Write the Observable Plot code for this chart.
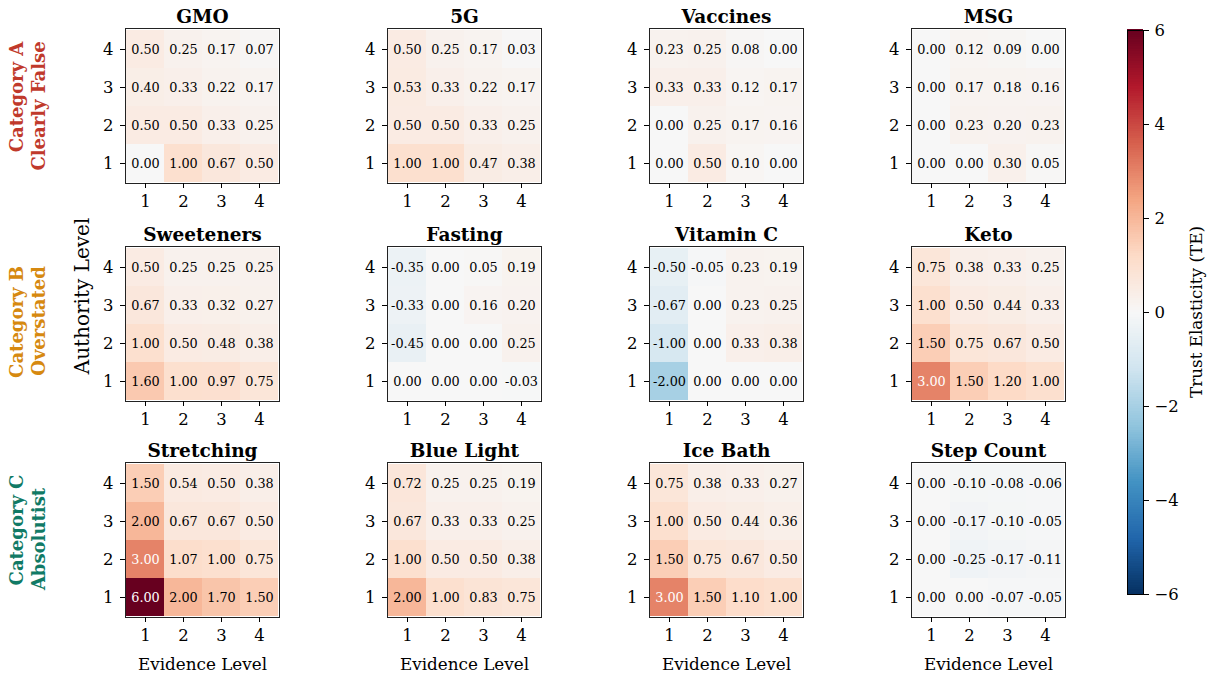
<!DOCTYPE html>
<html>
<head>
<meta charset="utf-8">
<script src="https://cdn.jsdelivr.net/npm/d3@7"></script>
<script src="https://cdn.jsdelivr.net/npm/@observablehq/plot@0.6"></script>
<style>
  body { margin: 0; background: #fff; }
  #figure { position: relative; width: 1210px; height: 675px; overflow: hidden; background: #fff;
            font-family: "DejaVu Serif", serif; color: #000; }
  #figure svg { position: absolute; overflow: visible; }
  .vlabel { position: absolute; white-space: nowrap; line-height: 1;
            transform: translate(-50%, -50%) rotate(-90deg); }
</style>
</head>
<body>
<div id="figure"></div>
<script>
// ---- data -------------------------------------------------------------
const evidenceLevels = [1, 2, 3, 4];
const authorityLevels = [1, 2, 3, 4];

const topicNames = ["GMO", "5G", "Vaccines", "MSG",
                    "Sweeteners", "Fasting", "Vitamin C", "Keto",
                    "Stretching", "Blue Light", "Ice Bath", "Step Count"];

const categoryNames = ["Category A", "Category B", "Category C"];
const categoryDescriptions = ["Clearly False", "Overstated", "Absolutist"];

// Trust elasticity per topic: one row per authority level (1..4),
// one column per evidence level (1..4)
const gmo        = [[0.00, 1.00, 0.67, 0.50], [0.50, 0.50, 0.33, 0.25], [0.40, 0.33, 0.22, 0.17], [0.50, 0.25, 0.17, 0.07]];
const fiveG      = [[1.00, 1.00, 0.47, 0.38], [0.50, 0.50, 0.33, 0.25], [0.53, 0.33, 0.22, 0.17], [0.50, 0.25, 0.17, 0.03]];
const vaccines   = [[0.00, 0.50, 0.10, 0.00], [0.00, 0.25, 0.17, 0.16], [0.33, 0.33, 0.12, 0.17], [0.23, 0.25, 0.08, 0.00]];
const msg        = [[0.00, 0.00, 0.30, 0.05], [0.00, 0.23, 0.20, 0.23], [0.00, 0.17, 0.18, 0.16], [0.00, 0.12, 0.09, 0.00]];
const sweeteners = [[1.60, 1.00, 0.97, 0.75], [1.00, 0.50, 0.48, 0.38], [0.67, 0.33, 0.32, 0.27], [0.50, 0.25, 0.25, 0.25]];
const fasting    = [[0.00, 0.00, 0.00, -0.03], [-0.45, 0.00, 0.00, 0.25], [-0.33, 0.00, 0.16, 0.20], [-0.35, 0.00, 0.05, 0.19]];
const vitaminC   = [[-2.00, 0.00, 0.00, 0.00], [-1.00, 0.00, 0.33, 0.38], [-0.67, 0.00, 0.23, 0.25], [-0.50, -0.05, 0.23, 0.19]];
const keto       = [[3.00, 1.50, 1.20, 1.00], [1.50, 0.75, 0.67, 0.50], [1.00, 0.50, 0.44, 0.33], [0.75, 0.38, 0.33, 0.25]];
const stretching = [[6.00, 2.00, 1.70, 1.50], [3.00, 1.07, 1.00, 0.75], [2.00, 0.67, 0.67, 0.50], [1.50, 0.54, 0.50, 0.38]];
const blueLight  = [[2.00, 1.00, 0.83, 0.75], [1.00, 0.50, 0.50, 0.38], [0.67, 0.33, 0.33, 0.25], [0.72, 0.25, 0.25, 0.19]];
const iceBath    = [[3.00, 1.50, 1.10, 1.00], [1.50, 0.75, 0.67, 0.50], [1.00, 0.50, 0.44, 0.36], [0.75, 0.38, 0.33, 0.27]];
const stepCount  = [[0.00, 0.00, -0.07, -0.05], [0.00, -0.25, -0.17, -0.11], [0.00, -0.17, -0.10, -0.05], [0.00, -0.10, -0.08, -0.06]];

const topicValues = [gmo, fiveG, vaccines, msg, sweeteners, fasting, vitaminC, keto,
                     stretching, blueLight, iceBath, stepCount];

const teDomain = [-6, 6];
const colorbarTicks = [-6, -4, -2, 0, 2, 4, 6];

// ---- styling & layout -------------------------------------------------
const categoryColors = ["#c0392b", "#d68910", "#117a65"];
const FONT = "DejaVu Serif";
const FRAME_W = 154, FRAME_H = 155;
const COL_X0 = 125, COL_STEP = 262;
const ROW_TOPS = [28, 246, 462];
const WHITE_TEXT_AT = 2.5;
const TICK_FONT = 16.5;

// diverging red/blue ramp, red for positive elasticity
const rdbuReversed = d3.piecewise(d3.interpolateRgb, d3.schemeRdBu[11].slice().reverse());
const colorScale = {type: "linear", domain: teDomain, interpolate: rdbuReversed};

const figure = document.getElementById("figure");

function place(node, left, top) {
  node.style.left = left + "px";
  node.style.top = top + "px";
  figure.appendChild(node);
}

function addLabel(text, x, y, css) {
  const div = document.createElement("div");
  div.className = "vlabel";
  div.textContent = text;
  Object.assign(div.style, css);
  place(div, x, y);
}

// ---- heatmap panels ---------------------------------------------------
topicValues.forEach((matrix, i) => {
  const row = Math.floor(i / 4), col = i % 4;
  const cells = [];
  matrix.forEach((vals, a) => vals.forEach((v, e) =>
    cells.push({authority: authorityLevels[a], evidence: evidenceLevels[e], value: v})));

  const isBottom = row === 2;
  const m = {top: 30, right: 8, bottom: isBottom ? 62 : 34, left: 34};
  const fmt = d => d.value.toFixed(2);

  const chart = Plot.plot({
    width: m.left + FRAME_W + m.right,
    height: m.top + FRAME_H + m.bottom,
    marginTop: m.top, marginRight: m.right, marginBottom: m.bottom, marginLeft: m.left,
    style: {fontFamily: FONT, background: "transparent", overflow: "visible"},
    x: {type: "band", domain: evidenceLevels, padding: 0},
    y: {type: "band", domain: authorityLevels.slice().reverse(), padding: 0},
    color: colorScale,
    marks: [
      Plot.cell(cells, {x: "evidence", y: "authority", fill: "value", shapeRendering: "crispEdges"}),
      Plot.text(cells.filter(d => Math.abs(d.value) < WHITE_TEXT_AT),
        {x: "evidence", y: "authority", text: fmt, fill: "black", fontSize: 12.8}),
      Plot.text(cells.filter(d => Math.abs(d.value) >= WHITE_TEXT_AT),
        {x: "evidence", y: "authority", text: fmt, fill: "white", fontSize: 12.8}),
      Plot.frame({stroke: "#222", strokeWidth: 1}),
      Plot.axisX({tickSize: 5, tickPadding: 7, fontSize: TICK_FONT, label: null}),
      Plot.axisY({tickSize: 5, tickPadding: 7, fontSize: TICK_FONT, label: null}),
      Plot.text([topicNames[i]], {text: d => d, frameAnchor: "top", lineAnchor: "middle", dy: -11,
        fontWeight: "bold", fontSize: 18.5}),
      isBottom ? Plot.text(["Evidence Level"], {text: d => d, frameAnchor: "bottom", lineAnchor: "middle",
        dy: 47, fontSize: 16.8}) : null
    ]
  });
  place(chart, COL_X0 + col * COL_STEP - m.left, ROW_TOPS[row] - m.top);
});

// ---- colorbar ---------------------------------------------------------
const barStep = (teDomain[1] - teDomain[0]) / 240;
const barStops = d3.range(teDomain[0], teDomain[1], barStep);
const cbM = {top: 10, right: 44, bottom: 10, left: 0};
const colorbar = Plot.plot({
  width: 16 + cbM.left + cbM.right,
  height: 564 + cbM.top + cbM.bottom,
  marginTop: cbM.top, marginRight: cbM.right, marginBottom: cbM.bottom, marginLeft: cbM.left,
  style: {fontFamily: FONT, background: "transparent", overflow: "visible"},
  x: {domain: [0, 1], axis: null},
  y: {domain: teDomain},
  color: colorScale,
  marks: [
    Plot.rect(barStops, {x1: 0, x2: 1, y1: d => d, y2: d => d + barStep * 1.5,
      fill: d => d + barStep / 2, shapeRendering: "crispEdges"}),
    Plot.frame({stroke: "#000", strokeWidth: 1}),
    Plot.axisY(colorbarTicks, {anchor: "right", tickSize: 5, tickPadding: 6, fontSize: TICK_FONT, label: null})
  ]
});
place(colorbar, 1127 - cbM.left, 30 - cbM.top);

// ---- figure-level labels ---------------------------------------------
addLabel("Trust Elasticity (TE)", 1196, 312, {fontSize: "16.8px"});
addLabel("Authority Level", 82, 296, {fontSize: "20px"});

const categoryCenters = [[97, 106], [322, 321], [530, 539]];
categoryNames.forEach((name, k) => {
  const css = {fontSize: "18px", fontWeight: "bold", color: categoryColors[k]};
  addLabel(name, 17, categoryCenters[k][0], css);
  addLabel(categoryDescriptions[k], 39, categoryCenters[k][1], css);
});
</script>
</body>
</html>
